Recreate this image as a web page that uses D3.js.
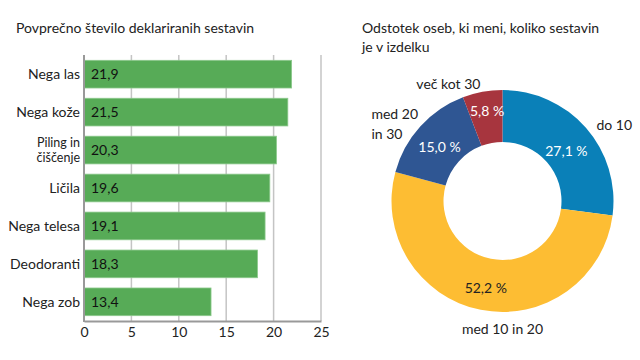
<!DOCTYPE html>
<html><head><meta charset="utf-8">
<script src="https://cdn.jsdelivr.net/npm/d3@7"></script>
<style>
body{margin:0;background:#fff;}
svg{font-family:Lato, "DejaVu Sans", sans-serif;}
</style></head>
<body>
<svg id="c" width="640" height="360"></svg>
<script>
const barCategories = ["Nega las","Nega kože","Piling in|čiščenje","Ličila","Nega telesa","Deodoranti","Nega zob"];
const barValues = [21.9,21.5,20.3,19.6,19.1,18.3,13.4];
const xTicks = [0,5,10,15,20,25];
const pieCategories = ["do 10","med 10 in 20","med 20|in 30","več kot 30"];
const pieValues = [27.1,52.2,15.0,5.8];
const pieColors = ["#0a80b8","#fdbd33","#2f5693","#a7353e"];
const pieLabelColors = ["#fff","#222","#fff","#fff"];

const svg = d3.select("#c");
const fmt = v => d3.format(".1f")(v).replace(".", ",");

// Bar chart
const x = d3.scaleLinear().domain([0,25]).range([84,321]);
const y = d3.scaleBand().domain(barCategories).range([55,321]).paddingInner(0.27).paddingOuter(0.14);

svg.append("text").attr("x",16).attr("y",33).attr("font-size",14).attr("fill","#222")
  .text("Povprečno število deklariranih sestavin");

const g = svg.append("g");
g.selectAll("line.grid").data(xTicks.slice(1)).join("line")
  .attr("x1",d=>x(d)).attr("x2",d=>x(d)).attr("y1",55).attr("y2",321)
  .attr("stroke","#c4c4c4").attr("stroke-width",1.5);

g.selectAll("rect").data(barValues).join("rect")
  .attr("x",x(0)).attr("y",(d,i)=>y(barCategories[i]))
  .attr("width",d=>x(d)-x(0)).attr("height",y.bandwidth())
  .attr("fill","#57ab57").attr("stroke","#8cc98c").attr("stroke-width",0.8);

g.selectAll("text.val").data(barValues).join("text")
  .attr("x",x(0)+7).attr("y",(d,i)=>y(barCategories[i])+y.bandwidth()/2)
  .attr("dy","0.35em").attr("font-size",14).attr("fill","#111").text(d=>fmt(d));

const xAxis = d3.axisBottom(x).tickValues(xTicks).tickSize(0).tickPadding(6).tickFormat(d3.format("d"));
const ax = svg.append("g").attr("transform","translate(0,321)").call(xAxis);
ax.select(".domain").attr("stroke","#999").attr("stroke-width",2);
ax.selectAll("text").attr("font-size",14).attr("fill","#222").attr("font-family","Lato, sans-serif");

svg.append("line").attr("x1",x(0)).attr("x2",x(0)).attr("y1",55).attr("y2",322)
  .attr("stroke","#999").attr("stroke-width",2);

barCategories.forEach((c,i)=>{
  const lines = c.split("|");
  const cy = y(c)+y.bandwidth()/2;
  const fs = lines.length>1 ? 12.5 : 14;
  const lh = 15;
  lines.forEach((l,j)=>{
    svg.append("text").attr("x",80).attr("text-anchor","end").attr("font-size",fs).attr("fill","#222")
      .attr("y",cy + (j-(lines.length-1)/2)*lh).attr("dy","0.35em").text(l);
  });
});

// Donut
const cx = 502.5, cy = 201, R = 111, r0 = 59;
svg.append("text").attr("x",362).attr("y",33).attr("font-size",14).attr("fill","#222")
  .text("Odstotek oseb, ki meni, koliko sestavin");
svg.append("text").attr("x",362).attr("y",52).attr("font-size",14).attr("fill","#222")
  .text("je v izdelku");

const pie = d3.pie().sort(null).value(d=>d)(pieValues);
const arc = d3.arc().innerRadius(r0).outerRadius(R);
const pg = svg.append("g").attr("transform",`translate(${cx},${cy})`);
pg.selectAll("path").data(pie).join("path").attr("d",arc).attr("fill",(d,i)=>pieColors[i]);
const pctShift = [6,4,3,-6];
pg.selectAll("text.pct").data(pie).join("text")
  .attr("transform",(d,i)=>{const c=arc.centroid(d);return `translate(${c[0]},${c[1]+pctShift[i]})`;})
  .attr("text-anchor","middle").attr("dy","0.35em").attr("font-size",14)
  .attr("fill",(d,i)=>pieLabelColors[i]).text(d=>fmt(d.data)+" %");

// outer labels
const labelAnchor = ["start","middle","end","end"];
const labelRad = [125,131,114,122];
const labelShiftY = [7,0,0,3];
pie.forEach((d,i)=>{
  const a = (d.startAngle+d.endAngle)/2;
  let lx = Math.sin(a)*labelRad[i], ly = -Math.cos(a)*labelRad[i] + labelShiftY[i];
  if (labelAnchor[i]==="middle") lx = 0;
  const lines = pieCategories[i].split("|");
  const t = pg.append("text").attr("text-anchor", lines.length>1 ? "start" : labelAnchor[i]).attr("font-size",14).attr("fill","#222");
  const spans = lines.map((l,j)=> t.append("tspan").attr("y",ly + (j-(lines.length-1)/2)*20).attr("dy","0.35em").text(l));
  if (lines.length>1) {
    const w = d3.max(spans, s=>s.node().getComputedTextLength());
    spans.forEach(s=>s.attr("x", lx - w));
  } else spans.forEach(s=>s.attr("x", lx));
});
</script>
</body></html>
